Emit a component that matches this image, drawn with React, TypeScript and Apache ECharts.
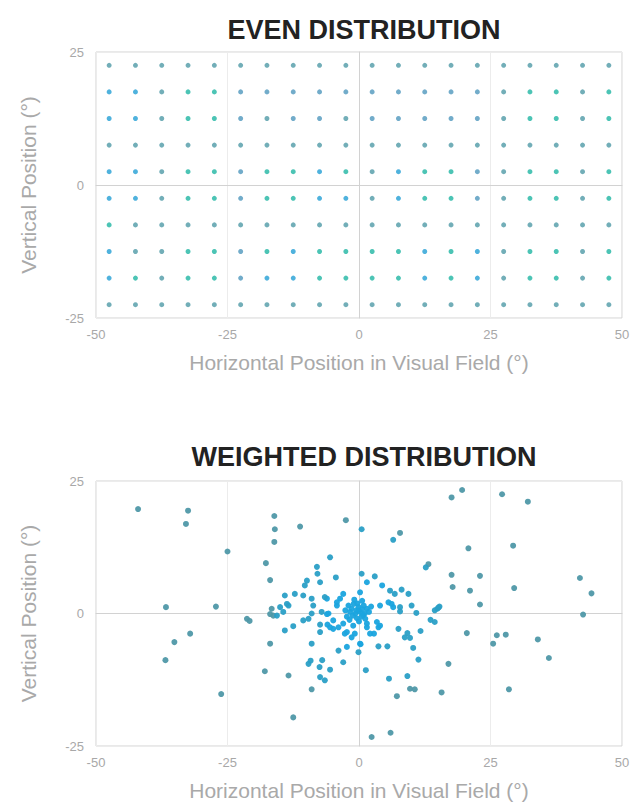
import React, { useEffect, useRef } from "react";
import * as echarts from "echarts";

// ---------- data ----------
const titles = ["EVEN DISTRIBUTION", "WEIGHTED DISTRIBUTION"];
const xAxisName = "Horizontal Position in Visual Field (°)";
const yAxisName = "Vertical Position (°)";

// Even grid: column centres and row centres (degrees)
const evenX = [-47.5, -42.5, -37.5, -32.5, -27.5, -22.5, -17.5, -12.5, -7.5, -2.5, 2.5, 7.5, 12.5, 17.5, 22.5, 27.5, 32.5, 37.5, 42.5, 47.5];
const evenY = [22.5, 17.5, 12.5, 7.5, 2.5, -2.5, -7.5, -12.5, -17.5, -22.5];
// colour code per row (g = grey-teal, b = blue, t = green-teal, s = steel)
const evenCodes = [
  "gggggggggggggggggggg",
  "bbgttssssssssssgttgt",
  "bbgttsgssgsssssgttgt",
  "gggggggggggggggggggg",
  "bbgttsttbtgbttsgttgt",
  "bbgttsttbbgbttsgttgt",
  "tggggggggggggggggggg",
  "bggttstbttttbtbgttgt",
  "btgttsbbttttbtbgttgt",
  "gggggggggggggggggggg",
];

// Weighted distribution points [x, y] (degrees)
const weightedPoints: number[][] = [
  [-42.0, 19.7], [-32.5, 19.4], [-32.9, 16.9], [-25.0, 11.7], [-16.1, 18.4], [-16.0, 15.9], [-16.1, 13.5],
  [-11.2, 16.4], [-2.5, 17.6], [-17.7, 9.5], [-16.9, 6.3], [-5.5, 10.6], [-8.0, 8.8], [-7.9, 7.5], [-4.4, 6.8],
  [-9.9, 6.2], [-10.3, 5.3], [-7.4, 5.9], [-36.7, 1.2], [-27.2, 1.3], [-14.1, 3.4], [-12.2, 3.7], [-10.6, 3.4],
  [-9.0, 2.8], [-6.1, 2.8], [-3.6, 2.8], [-16.6, 0.9], [-15.0, 1.2], [-13.7, 1.8], [-16.3, -0.4], [-21.3, -1.0],
  [-20.8, -1.4], [-4.2, 1.5],
  [19.6, 23.3], [17.6, 21.9], [27.2, 22.5], [32.1, 21.1], [0.5, 15.9], [7.8, 15.2], [6.5, 13.9], [20.8, 12.3],
  [29.3, 12.8], [13.2, 9.3], [12.7, 8.7], [0.5, 7.5], [3.0, 7.0], [1.5, 5.9], [17.6, 7.3], [23.0, 7.1], [4.4, 5.3],
  [5.9, 4.3], [8.1, 4.5], [9.4, 3.7], [6.8, 3.7], [17.8, 5.0], [21.1, 4.3], [29.5, 4.8], [42.0, 6.7], [44.2, 3.8],
  [42.6, -0.2], [23.0, 1.7], [0.2, 4.0], [4.0, 1.5], [5.6, 2.1], [6.5, 1.2], [7.8, 0.4], [10.0, 1.5], [10.9, 0.1],
  [15.1, 1.1], [14.4, 0.6],
  [-32.1, -3.8], [-35.1, -5.4], [-36.8, -8.8], [-26.2, -15.2], [-16.9, -5.7], [-17.9, -10.9], [-13.4, -11.7],
  [-12.5, -19.6], [-9.0, -14.3], [-9.0, -5.7], [-9.6, -9.5], [-9.2, -8.9], [-7.5, -10.1], [-7.4, -12.0],
  [-6.5, -12.6], [-7.0, -8.8], [-5.5, -10.6], [-3.9, -7.0], [-3.0, -9.2], [-2.3, -6.3], [-0.1, -7.3],
  [-14.1, -3.2], [-12.5, -2.4], [-10.6, -1.3], [-9.6, -1.0], [-7.4, -2.1], [-6.0, -2.1], [-4.9, -2.9],
  [-2.7, -3.8], [-3.9, -2.6], [-16.9, -0.1], [-15.6, -0.4], [-14.4, 0.3], [-13.4, 1.5], [-8.7, 1.5], [-6.1, -0.1],
  [20.5, -3.7], [26.2, -4.1], [27.9, -4.0], [25.5, -5.7], [34.0, -4.9], [36.1, -8.4], [28.5, -14.3], [17.0, -9.5],
  [15.7, -14.9], [11.3, -8.7], [9.2, -11.8], [9.7, -14.2], [10.6, -14.3], [7.2, -15.6], [5.7, -12.3], [1.3, -10.7],
  [6.0, -22.5], [2.4, -23.3], [0.3, -5.8], [3.7, -6.2], [5.4, -6.2], [10.3, -6.5], [9.2, -3.7], [9.7, -4.6],
  [11.7, -3.3], [13.6, -1.2], [14.4, -1.6], [14.9, 0.9], [15.3, 1.3], [3.4, -1.6], [3.7, -2.6], [4.0, -2.3],
  [2.85, -3.8], [1.5, -2.6], [-0.8, -3.8], [-1.4, -4.5],
  [-3.0, 3.7], [-6.5, 3.1], [-4.2, 2.1], [6.2, 1.8], [7.8, 1.2], [-7.1, 0.3], [-5.8, 0.0], [-9.0, 0.0],
  [-2.0, 1.5], [-1.0, 1.8], [-0.1, 1.2], [0.9, 1.5], [1.5, 0.9], [-1.7, 0.3], [-0.7, 0.0], [0.2, 0.3], [1.1, 0.0],
  [-2.3, -0.6], [-0.4, -0.9], [0.5, -0.6], [-1.4, 0.9], [-0.1, 0.5], [-4.9, -1.3], [-5.5, -2.6], [-3.0, -1.9],
  [-1.1, -2.3], [1.5, -1.9], [-2.3, -3.5], [2.1, -3.8], [-7.4, -3.5], [0.2, -5.7], [7.5, -2.9], [8.7, -4.5],
  [-0.5, 0.6], [0.6, 0.8], [-1.2, -0.4], [0.8, -0.3], [-0.3, 1.9], [1.9, 0.3], [-2.6, 0.6], [2.3, 1.3],
  [-1.8, -1.2], [0.0, -1.5], [1.2, -1.0], [-0.9, 2.6], [0.6, 2.4],
];

const xTicks = { min: -50, max: 50, interval: 25 };
const yTicks = { min: -25, max: 25, interval: 25 };

// ---------- styles ----------
const colorMap: Record<string, string> = {
  g: "#4f9aa6",
  b: "#239fd4",
  t: "#1fb5a2",
  s: "#4f97bd",
};
const FONT = "'Liberation Sans', Arial, Helvetica, sans-serif";
const TICK_COLOR = "#a8a8a8";
const NAME_COLOR = "#a9a9a9";
const LINE_COLOR = "#d2d2d2";
const SPLIT_COLOR = "#ececec";

const evenData: any[] = [];
evenY.forEach((y, r) => {
  evenX.forEach((x, c) => {
    evenData.push({ value: [x, y], itemStyle: { color: colorMap[evenCodes[r][c]] } });
  });
});

function weightedColor(p: any) {
  const [x, y] = p.value as number[];
  const d = Math.sqrt(x * x + y * y);
  if (d > 16) return "#4f98a8";
  if (d > 7) return "#2a9fc6";
  return "#1aa4de";
}

function makeX(gridIndex: number) {
  return {
    type: "value",
    gridIndex,
    ...xTicks,
    name: xAxisName,
    nameLocation: "middle",
    nameGap: 34,
    nameTextStyle: { color: NAME_COLOR, fontSize: 21, fontFamily: FONT },
    axisLine: { show: true, lineStyle: { color: LINE_COLOR } },
    axisTick: { show: false },
    axisLabel: { color: TICK_COLOR, fontSize: 13, fontFamily: FONT, margin: 10 },
    splitLine: { show: true, lineStyle: { color: SPLIT_COLOR } },
  };
}
function makeY(gridIndex: number) {
  return {
    type: "value",
    gridIndex,
    ...yTicks,
    name: yAxisName,
    nameLocation: "middle",
    nameGap: 57,
    nameTextStyle: { color: NAME_COLOR, fontSize: 21, fontFamily: FONT },
    axisLine: { show: true, lineStyle: { color: LINE_COLOR } },
    axisTick: { show: false },
    axisLabel: { color: TICK_COLOR, fontSize: 13, fontFamily: FONT, margin: 12 },
    splitLine: { show: true, lineStyle: { color: SPLIT_COLOR } },
  };
}

export default function App() {
  const ref = useRef<HTMLDivElement>(null);
  useEffect(() => {
    if (!ref.current) return;
    const chart = echarts.init(ref.current, undefined, { renderer: "svg" });
    chart.setOption({
      animation: false,
      backgroundColor: "#ffffff",
      title: [
        {
          text: titles[0],
          left: 359,
          top: 11,
          textAlign: "center",
          textStyle: { fontSize: 27, fontWeight: "bold", color: "#222", fontFamily: FONT },
        },
        {
          text: titles[1],
          left: 359,
          top: 438,
          textAlign: "center",
          textStyle: { fontSize: 27, fontWeight: "bold", color: "#222", fontFamily: FONT },
        },
      ],
      grid: [
        { left: 96, right: 13, top: 52, height: 266, show: true, borderColor: LINE_COLOR, borderWidth: 1 },
        { left: 96, right: 13, top: 481, height: 265, show: true, borderColor: LINE_COLOR, borderWidth: 1 },
      ],
      xAxis: [makeX(0), makeX(1)],
      yAxis: [makeY(0), makeY(1)],
      series: [
        {
          type: "scatter",
          xAxisIndex: 0,
          yAxisIndex: 0,
          symbolSize: 5,
          data: evenData,
        },
        {
          type: "scatter",
          xAxisIndex: 1,
          yAxisIndex: 1,
          symbolSize: 6,
          itemStyle: { color: weightedColor, opacity: 0.95 },
          data: weightedPoints,
        },
      ],
    });
    return () => chart.dispose();
  }, []);
  return (
    <div
      ref={ref}
      style={{ position: "absolute", left: 0, top: 0, width: 635, height: 802 }}
    />
  );
}
